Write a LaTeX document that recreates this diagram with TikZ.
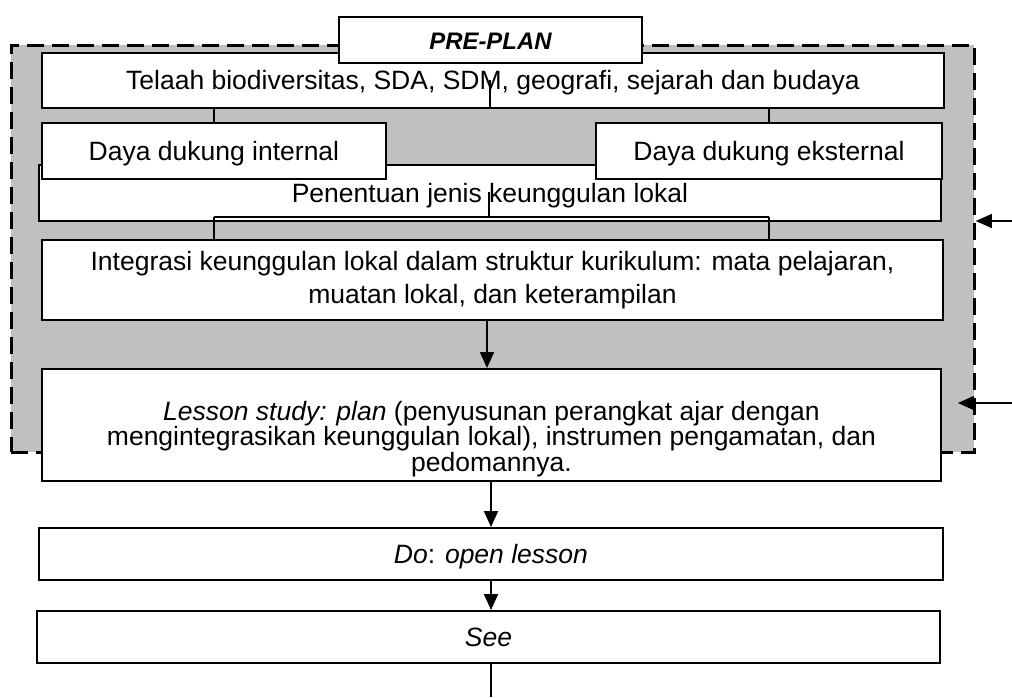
\documentclass[tikz,border=0pt]{standalone}
\usepackage{fontspec}
\setmainfont{Liberation Sans}
\usetikzlibrary{arrows.meta}
\definecolor{silver}{RGB}{192,192,192}
\tikzset{
  box/.style={draw, line width=1.9pt, fill=white, inner sep=0pt, align=center, anchor=north west,
    font=\fontsize{26.5}{26}\selectfont},
  one/.style={text height=19pt, text depth=0pt},
  conn/.style={line width=1.9pt},
  arr/.style={conn, -{Triangle[length=16pt,width=14pt]}},
  framebox/.style={draw, fill=silver, line width=2.8pt, dash pattern=on 17pt off 8pt, inner sep=0pt, anchor=north west}
}
\begin{document}
\begin{tikzpicture}[x=1pt,y=-1pt]
\useasboundingbox (0,0) rectangle (1012,697);
% gray dashed frame
\node[framebox, minimum width=963pt, minimum height=407pt] (frame) at (10,44) {};
% Telaah
\node[box, one, minimum width=902pt, minimum height=55pt] (tel) at (41,52)
  {Telaah biodiversitas, SDA, SDM, geografi, sejarah dan budaya};
\node[box, one, minimum width=303pt, minimum height=46pt, font=\fontsize{23.9}{24}\selectfont\bfseries\itshape] (pre) at (338,16) {PRE-PLAN};
% connectors telaah -> daya
\coordinate (t1) at (490,80);
\coordinate (t2) at (490,108);
% Penentuan
\node[box, one, minimum width=902pt, minimum height=56pt] (pen) at (38,164)
  {Penentuan jenis keunggulan lokal};
\node[box, one, minimum width=344pt, minimum height=56pt] (din) at (41,122) {Daya dukung internal};
\node[box, one, minimum width=346pt, minimum height=56pt] (dex) at (595,122) {Daya dukung eksternal};
\draw[conn] (t1) -- (t2);
\draw[conn] (din.north |- t2) -- (dex.north |- t2);
\draw[conn] (din.north |- t2) -- (din.north);
\draw[conn] (dex.north |- t2) -- (dex.north);
% Integrasi
\node[box, minimum width=901pt, minimum height=80pt, font=\fontsize{26.5}{32.5}\selectfont] (int) at (41,239)
  {Integrasi keunggulan lokal dalam struktur kurikulum: mata pelajaran,\\ muatan lokal, dan keterampilan};
\coordinate (p1) at (489,192);
\coordinate (p2) at (489,217);
\draw[conn] (p1) -- (p2);
\draw[conn] (din.north |- p2) -- (dex.north |- p2);
\draw[conn] (din.north |- p2) -- (din.north |- int.north);
\draw[conn] (dex.north |- p2) -- (dex.north |- int.north);
% Lesson study
\node[box, minimum width=899pt, minimum height=112pt] (les) at (41,368) {};
\node[align=center, inner sep=0pt, font=\fontsize{26.5}{24.5}\selectfont] (lestxt) at ([yshift=-14pt]les.center)
  {\textit{Lesson study: plan} (penyusunan perangkat ajar dengan\\ mengintegrasikan keunggulan lokal), instrumen pengamatan, dan\\ pedomannya.};
\coordinate (a1) at (487,300);
\draw[arr] (a1 |- int.south) -- (a1 |- les.north);
% Do, See
\node[box, one, minimum width=904pt, minimum height=52pt] (do) at (38,527) {\textit{Do}: \textit{open lesson}};
\node[box, one, minimum width=903pt, minimum height=52pt] (see) at (36,610) {\textit{See}};
\coordinate (l1) at (491,480);
\draw[arr] (l1) -- (l1 |- do.north);
\draw[arr] (l1 |- do.south) -- (l1 |- see.north);
\coordinate (bend) at (491,697);
\draw[line width=1.2pt] (bend |- see.south) -- (bend);
% arrows from the right
\coordinate (r1) at (1012,221);
\coordinate (r2) at (1012,403);
\draw[arr, line width=1.5pt] (r1) -- (frame.east |- r1);
\draw[arr, line width=1.5pt] (r2) -- ([xshift=16pt]les.east |- r2);
\end{tikzpicture}
\end{document}
